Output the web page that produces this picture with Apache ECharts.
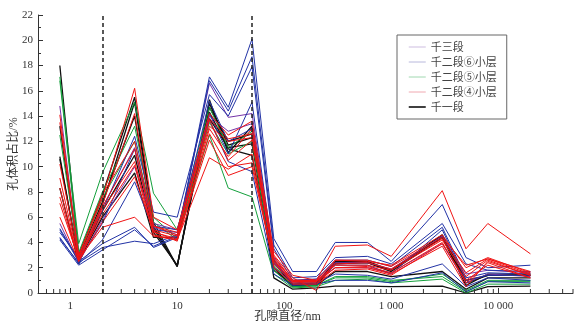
<!DOCTYPE html>
<html>
<head>
<meta charset="utf-8">
<script src="https://cdn.jsdelivr.net/npm/echarts@6/dist/echarts.min.js"></script>
<style>html,body{margin:0;padding:0;background:#fff;}#c{width:582px;height:330px;}</style>
</head>
<body>
<div id="c"></div>
<script>
// Pore diameters (nm) at which each curve is sampled
const poreDiameter = [0.8, 1.2, 2, 4, 6, 10, 20, 30, 50, 80, 120, 200, 300, 600, 1000, 3000, 5000, 8000, 20000];

// 千三段 (blue)
const qian3 = [
  [4.2, 2.2, 3.4, 5.0, 3.7, 4.5, 17.1, 14.7, 20.1, 4.3, 1.7, 1.7, 4.0, 4.0, 2.5, 7.0, 2.8, 2.0, 2.2],
  [5.0, 2.5, 3.9, 5.2, 3.6, 4.4, 16.8, 14.4, 18.7, 3.8, 1.2, 1.3, 2.8, 2.9, 2.3, 5.5, 2.3, 1.8, 1.7],
  [4.8, 2.8, 6.5, 12.4, 6.4, 6.0, 15.7, 14.0, 17.9, 3.5, 1.0, 1.1, 2.6, 2.6, 2.1, 5.2, 1.2, 1.6, 1.5],
  [4.4, 2.3, 4.2, 8.8, 5.0, 4.8, 14.2, 11.0, 15.1, 2.6, 0.7, 0.8, 1.5, 1.4, 1.1, 2.3, 0.5, 1.2, 1.0],
  [5.1, 2.6, 5.5, 11.4, 5.3, 5.0, 13.7, 10.4, 9.6, 1.5, 0.6, 0.7, 1.0, 1.0, 0.8, 1.6, 0.1, 0.9, 0.8],
  [4.3, 2.4, 3.6, 4.1, 3.9, 4.6, 15.2, 12.0, 13.0, 2.0, 0.8, 0.9, 2.2, 2.2, 1.5, 5.0, 1.0, 1.4, 1.4]
];
// 千二段⑥小层 (purple)
const qian2_6 = [
  [14.8, 2.7, 6.8, 11.5, 5.2, 4.6, 16.6, 13.9, 14.2, 2.8, 1.0, 1.1, 2.4, 2.4, 1.9, 4.5, 1.5, 1.8, 1.6],
  [5.5, 2.4, 5.8, 10.0, 5.5, 5.0, 14.0, 12.8, 13.4, 2.4, 0.9, 1.0, 2.0, 2.0, 1.6, 3.9, 0.8, 1.5, 1.3]
];
// 千二段⑤小层 (green)
const qian2_5 = [
  [17.1, 3.9, 9.5, 15.1, 7.9, 5.0, 14.7, 11.5, 12.8, 2.2, 0.5, 0.6, 1.3, 1.3, 1.0, 1.3, 0.1, 0.9, 0.9],
  [16.8, 3.2, 8.0, 13.2, 6.0, 4.3, 12.5, 8.3, 7.6, 1.5, 0.4, 0.5, 1.0, 1.1, 0.8, 1.1, 0.0, 0.7, 0.7],
  [12.5, 2.9, 7.5, 12.0, 5.6, 4.2, 13.5, 11.0, 12.0, 1.8, 0.5, 0.6, 1.2, 1.2, 0.9, 1.5, 0.2, 1.0, 1.0]
];
// 千二段④小层 (red)
const qian2_4 = [
  [14.1, 3.0, 7.5, 16.2, 6.0, 5.0, 14.2, 12.5, 13.6, 3.3, 1.4, 1.0, 3.7, 3.8, 2.9, 8.1, 3.5, 5.5, 3.1],
  [10.2, 2.8, 7.0, 14.2, 5.3, 4.8, 13.2, 12.0, 12.3, 3.0, 1.2, 0.2, 2.6, 2.6, 2.1, 4.4, 2.2, 2.7, 1.7],
  [9.1, 2.6, 6.8, 11.4, 5.0, 4.5, 13.7, 10.5, 12.1, 2.7, 1.0, 1.0, 2.2, 2.2, 1.8, 4.2, 1.3, 2.6, 1.4],
  [8.3, 2.5, 6.6, 10.4, 4.8, 4.3, 12.6, 10.0, 10.3, 2.5, 0.9, 0.9, 2.0, 2.1, 1.6, 4.0, 0.8, 2.4, 1.2],
  [7.6, 2.6, 6.2, 10.1, 4.6, 4.2, 12.1, 9.3, 10.0, 2.3, 0.8, 0.8, 2.0, 2.0, 1.5, 3.7, 0.5, 2.5, 1.4],
  [7.1, 2.7, 5.2, 6.0, 4.5, 4.2, 10.7, 9.8, 11.0, 2.0, 0.7, 0.7, 1.8, 1.9, 1.4, 3.9, 1.0, 2.2, 1.2],
  [6.0, 2.5, 5.6, 9.2, 4.9, 4.1, 13.0, 10.8, 13.0, 2.9, 1.0, 1.0, 2.6, 2.5, 2.2, 4.6, 2.0, 2.8, 1.6],
  [13.5, 2.9, 7.8, 12.0, 5.3, 4.6, 13.8, 12.2, 12.6, 2.6, 0.9, 0.9, 2.3, 2.4, 1.9, 4.3, 1.6, 2.7, 1.5]
];
// 千一段 (black)
const qian1 = [
  [18.0, 3.0, 7.8, 15.5, 5.6, 2.1, 15.3, 11.1, 13.2, 2.6, 0.7, 0.8, 2.5, 2.5, 1.8, 4.6, 1.0, 1.4, 1.4],
  [13.2, 2.8, 7.2, 14.0, 5.1, 2.1, 15.0, 11.7, 12.3, 2.4, 0.6, 0.7, 2.3, 2.4, 1.7, 4.4, 0.6, 1.5, 1.5],
  [10.8, 2.5, 6.5, 10.9, 4.8, 2.2, 14.3, 11.4, 10.9, 2.0, 0.5, 0.6, 1.7, 1.7, 1.3, 1.7, 0.3, 1.2, 1.2],
  [8.3, 2.3, 7.0, 15.1, 5.3, 2.1, 14.7, 12.0, 12.6, 1.2, 0.3, 0.4, 0.55, 0.55, 0.5, 0.55, 0.0, 0.5, 0.55],
  [10.6, 2.6, 6.0, 9.5, 4.4, 4.4, 13.8, 11.5, 11.8, 1.8, 0.6, 0.6, 2.4, 2.4, 1.8, 4.5, 0.8, 1.4, 1.4]
];

const legendNames = ['千三段', '千二段⑥小层', '千二段⑤小层', '千二段④小层', '千一段'];
const dividerDiameters = [2, 50];
const minorTickValues = [0.6, 0.7, 0.8, 0.9, 2, 3, 4, 5, 6, 7, 8, 9, 20, 30, 40, 50, 60, 70, 80, 90,
  200, 300, 400, 500, 600, 700, 800, 900, 2000, 3000, 4000, 5000, 6000, 7000, 8000, 9000,
  20000, 30000, 40000, 50000];

const groups = [
  {name: legendNames[4], rows: qian1, color: '#111111', width: 1.3},
  {name: legendNames[2], rows: qian2_5, color: '#14a03c', width: 1},
  {name: legendNames[1], rows: qian2_6, color: '#7434a8', width: 1},
  {name: legendNames[0], rows: qian3, color: '#2233a6', width: 1},
  {name: legendNames[3], rows: qian2_4, color: '#f01414', width: 1}
];

const series = [];
groups.forEach(g => {
  g.rows.forEach(r => {
    series.push({
      type: 'line', name: g.name, symbol: 'none', silent: true,
      data: poreDiameter.map((d, i) => [d, r[i]]),
      lineStyle: {color: g.color, width: g.width},
      itemStyle: {color: g.color}
    });
  });
});
series[0].markLine = {
  silent: true, symbol: 'none', label: {show: false},
  lineStyle: {type: [4, 3], color: '#222', width: 1.5},
  data: dividerDiameters.map(v => ({xAxis: v}))
};
series.push({
  type: 'custom', silent: true, z: 10,
  data: minorTickValues.map(v => [v, 0]),
  renderItem: function (params, api) {
    const p = api.coord([api.value(0), 0]);
    return {type: 'line', shape: {x1: p[0], y1: p[1], x2: p[0], y2: p[1] - 4},
      style: {stroke: '#333', lineWidth: 1}};
  }
});

const legendColors = ['#cdbde0', '#b8b8dc', '#a0d8b0', '#f0a8b0', '#000000'];

const chart = echarts.init(document.getElementById('c'), null, {renderer: 'canvas'});
chart.setOption({
  animation: false,
  backgroundColor: '#fff',
  grid: {left: 38, right: 9, top: 15, bottom: 37, containLabel: false, outerBoundsMode: 'none'},
  legend: {
    left: 397, top: 35, orient: 'vertical',
    padding: [6, 10, 6, 11], itemGap: 3, itemWidth: 17, itemHeight: 10,
    borderColor: '#666', borderWidth: 1,
    textStyle: {fontFamily: 'Noto Sans CJK SC', fontSize: 11, color: '#444', lineHeight: 12},
    data: legendNames.map((n, i) => ({
      name: n,
      lineStyle: {color: legendColors[i], width: i === 4 ? 1.5 : 1},
      itemStyle: {color: 'rgba(0,0,0,0)', borderWidth: 0, opacity: 0}
    }))
  },
  xAxis: {
    type: 'log', logBase: 10, min: 0.5, max: 50000,
    name: '孔隙直径/nm', nameLocation: 'middle', nameGap: 18, nameMoveOverlap: false,
    nameTextStyle: {fontFamily: 'Liberation Serif, Noto Sans CJK SC', fontSize: 12, color: '#333', padding: [0, 36, 0, 0]},
    axisLine: {lineStyle: {color: '#333', width: 1}},
    axisTick: {inside: true, length: 5, lineStyle: {color: '#333'}},
    minorTick: {show: false},
    splitLine: {show: false},
    axisLabel: {
      showMinLabel: false, showMaxLabel: false, margin: 8,
      fontFamily: 'Liberation Serif', fontSize: 11, color: '#333',
      formatter: v => { const n = Math.round(v); return String(n).replace(/\B(?=(\d{3})+(?!\d))/g, ' '); }
    }
  },
  yAxis: {
    type: 'value', min: 0, max: 22, interval: 2,
    name: '孔体积占比/%', nameLocation: 'middle', nameGap: 18, nameMoveOverlap: false,
    nameTextStyle: {fontFamily: 'Liberation Serif, Noto Sans CJK SC', fontSize: 12, color: '#333'},
    axisLine: {show: true, lineStyle: {color: '#333', width: 1}},
    axisTick: {show: true, inside: true, length: 5, lineStyle: {color: '#333'}},
    minorTick: {show: true, splitNumber: 2, length: 3, lineStyle: {color: '#333'}},
    splitLine: {show: false},
    axisLabel: {fontFamily: 'Liberation Serif', fontSize: 11, color: '#333', margin: 5}
  },
  series: series
});
</script>
</body>
</html>
